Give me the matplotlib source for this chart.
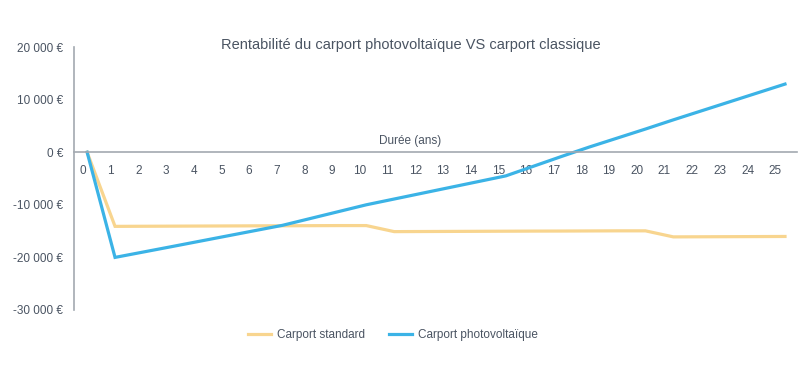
import numpy as np
import matplotlib
matplotlib.use("Agg")
import matplotlib.pyplot as plt

# data
annees = list(range(26))
carport_standard = [0, -14100, -14080, -14060, -14040, -14020, -14000, -13990, -13970, -13950,
                    -13950, -15100, -15080, -15060, -15040, -15020, -15000, -14990, -14970, -14950,
                    -14950, -16100, -16080, -16060, -16040, -16020]
carport_pv = [0, -20000, -18990, -17980, -16960, -15940, -14920, -13900, -12600, -11300,
              -10000, -8900, -7800, -6700, -5600, -4500, -2650, -800, 1000, 2700,
              4400, 6150, 7850, 9550, 11250, 12950]
y_ticks = [20000, 10000, 0, -10000, -20000, -30000]

titre = "Rentabilité du carport photovoltaïque VS carport classique"
label_x = "Durée (ans)"

c_jaune = "#f8d58f"
c_bleu = "#3bb3e6"
c_texte = "#4a5462"
c_axe = "#a3a9b0"

plt.rcParams['font.family'] = ['Liberation Sans', 'DejaVu Sans']

fig = plt.figure(figsize=(8.1, 3.71), dpi=100)
ax = fig.add_axes([74 / 810, 1 - 310 / 371, (797 - 74) / 810, (310 - 47) / 371])

x = np.array(annees)
ax.plot(x, carport_standard, color=c_jaune, lw=2.3, label="Carport standard", solid_joinstyle="miter")
ax.plot(x, carport_pv, color=c_bleu, lw=2.3, label="Carport photovoltaïque", solid_joinstyle="miter")

ax.set_xlim(-0.47, 25.43)
ax.set_ylim(-30000, 20000)

ax.set_yticks(y_ticks)
ax.set_yticklabels([f"{v:,} €".replace(",", " ") for v in y_ticks])
ax.set_xticks(x * 0.992 - 0.15)
ax.set_xticklabels([str(v) for v in annees])
ax.tick_params(axis="both", length=0, labelsize=8.5, colors=c_texte)
ax.tick_params(axis="x", pad=9)
ax.tick_params(axis="y", pad=8)

for s in ["top", "right"]:
    ax.spines[s].set_visible(False)
ax.spines["bottom"].set_position(("data", 0))
ax.spines["bottom"].set_color(c_axe)
ax.spines["left"].set_color(c_axe)
ax.spines["bottom"].set_linewidth(1.2)
ax.spines["left"].set_linewidth(1.2)

fig.text(411 / 810, 1 - 45 / 371, titre, ha="center", va="center", fontsize=10.5, color=c_texte)
fig.text(410 / 810, 1 - 141 / 371, label_x, ha="center", va="center", fontsize=8.5, color=c_texte)

leg = fig.legend(loc="center", bbox_to_anchor=(393 / 810, 1 - 335 / 371), ncol=2, frameon=False,
                 fontsize=8.5, handlelength=2.0, columnspacing=2.0, handletextpad=0.5)
for t in leg.get_texts():
    t.set_color(c_texte)

fig.savefig("out.png", dpi=100)
